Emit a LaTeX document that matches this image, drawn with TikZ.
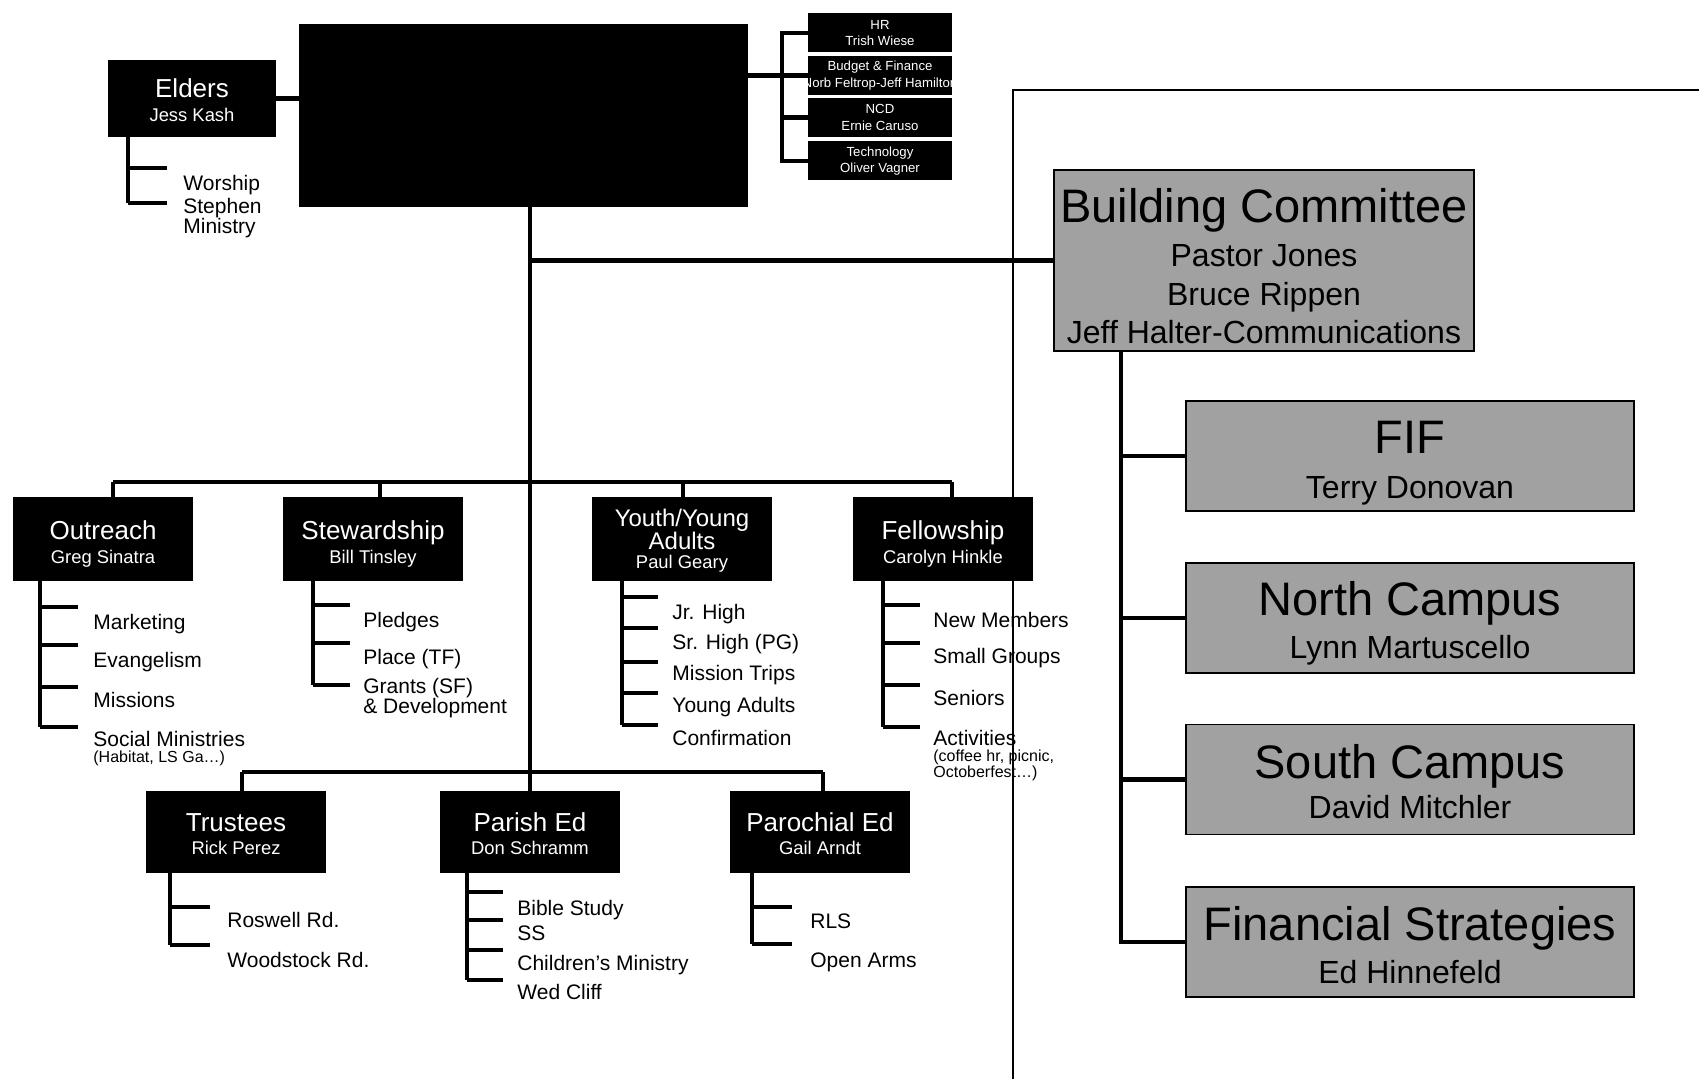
\documentclass[tikz,border=0pt]{standalone}
\usepackage{fontspec}
\setmainfont{Liberation Sans}
\begin{document}
\begin{tikzpicture}[x=0.5pt,y=-0.5pt,
 blk/.style={fill=black, draw=none, inner sep=0pt},
 gbox/.style={fill=black!37, draw=black, line width=0.9pt, inner sep=0pt, minimum width=224pt, minimum height=55pt},
 conn/.style={line width=2.2pt},
 framel/.style={line width=0.8pt},
 ttl/.style={text=white, inner sep=0pt, text height=9.3pt, text depth=0pt, font=\fontsize{13}{13}\selectfont},
 ttlsm/.style={text=white, inner sep=0pt, text height=8.6pt, text depth=0pt, font=\fontsize{12}{12}\selectfont},
 nm/.style={text=white, inner sep=0pt, text height=6.6pt, text depth=0pt, font=\fontsize{9.2}{9.2}\selectfont},
 item/.style={anchor=west, inner sep=0pt, text height=7.5pt, text depth=0pt, font=\fontsize{10.5}{10.2}\selectfont},
 itemtwo/.style={anchor=west, inner sep=0pt, align=left, font=\fontsize{10.5}{10.2}\selectfont},
 tinytxt/.style={anchor=west, inner sep=0pt, align=left, font=\fontsize{8}{8}\selectfont},
 hrt/.style={text=white, inner sep=0pt, align=center, font=\fontsize{6.6}{8.3}\selectfont},
 gtitle/.style={inner sep=0pt, text height=16.8pt, text depth=0pt, font=\fontsize{23.5}{23.5}\selectfont},
 gname/.style={inner sep=0pt, text height=11.5pt, text depth=0pt, font=\fontsize{16}{16}\selectfont},
 topbox/.style={blk, minimum width=90pt, minimum height=42pt},
 botbox/.style={blk, minimum width=90pt, minimum height=41pt},
 hrbox/.style={blk, minimum width=72pt, minimum height=19.5pt},
]
\fill[white] (0,0) rectangle (1699,1079);
\useasboundingbox (0,0) rectangle (1699,1079);

% ---------- top area ----------
\node[blk, minimum width=224.5pt, minimum height=91.5pt] (center) at (523.5,115.5) {};
\node[blk, minimum width=84pt, minimum height=38.5pt] (elders) at (192,98.5) {};
\node[ttl] (eldT) at (192,88) {Elders};
\node[nm] (eldN) at (192,115) {Jess Kash};

\node[hrbox] (hr) at (880,33) {};
\node[hrt] (hrT) at (880,33) {HR\\Trish Wiese};
\node[hrbox] (budget) at (880,75.5) {};
\begin{scope}
 \clip (808,56) rectangle (952,95);
 \node[hrt] (budT) at (880,75.5) {Budget \& Finance\\Norb Feltrop-Jeff Hamilton};
\end{scope}
\node[hrbox] (ncd) at (880,117.5) {};
\node[hrt] (ncdT) at (880,117.5) {NCD\\Ernie Caruso};
\node[hrbox] (tech) at (880,161) {};
\node[hrt] (techT) at (880,161) {Technology\\Oliver Vagner};

% ---------- building committee ----------
\node[gbox, minimum width=210pt, minimum height=90.5pt] (bc) at (1264,260.5) {};
\node[gtitle] (bcT) at (1264,206) {Building Committee};
\node[gname] (bc1) at (1264,255) {Pastor Jones};
\node[gname] (bc2) at (1264,294) {Bruce Rippen};
\node[gname] (bc3) at (1264,332) {Jeff Halter-Communications};

\node[gbox] (fif) at (1410,456) {};
\node[gtitle] (fifT) at (1410,437) {FIF};
\node[gname] (fifN) at (1410,487) {Terry Donovan};
\node[gbox] (north) at (1410,618) {};
\node[gtitle] (northT) at (1410,599) {North Campus};
\node[gname] (northN) at (1410,647) {Lynn Martuscello};
\node[gbox] (south) at (1410,779.5) {};
\node[gtitle] (southT) at (1410,762) {South Campus};
\node[gname] (southN) at (1410,807) {David Mitchler};
\node[gbox] (fin) at (1410,942) {};
\node[gtitle] (finT) at (1410,924) {Financial Strategies};
\node[gname] (finN) at (1410,972) {Ed Hinnefeld};

% ---------- top row ----------
\node[topbox] (outreach) at (103,539) {};
\node[ttl] (outT) at (103,530) {Outreach};
\node[nm] (outN) at (103,557) {Greg Sinatra};
\node[topbox] (steward) at (373,539) {};
\node[ttl] (steT) at (373,530) {Stewardship};
\node[nm] (steN) at (373,557) {Bill Tinsley};
\node[topbox] (youth) at (682,539) {};
\node[ttlsm] (youT1) at (682,518) {Youth/Young};
\node[ttlsm] (youT2) at (682,541) {Adults};
\node[nm] (youN) at (682,562) {Paul Geary};
\node[topbox] (fellow) at (943,539) {};
\node[ttl] (felT) at (943,530) {Fellowship};
\node[nm] (felN) at (943,557) {Carolyn Hinkle};

% ---------- bottom row ----------
\node[botbox] (trustees) at (236,832) {};
\node[ttl] (truT) at (236,822) {Trustees};
\node[nm] (truN) at (236,848) {Rick Perez};
\node[botbox] (parish) at (530,832) {};
\node[ttl] (parT) at (530,822) {Parish Ed};
\node[nm] (parN) at (530,848) {Don Schramm};
\node[botbox] (paroch) at (820,832) {};
\node[ttl] (proT) at (820,822) {Parochial Ed};
\node[nm] (proN) at (820,848) {Gail Arndt};

% ---------- main connectors ----------
\draw[conn] (elders.east) -- (elders.east -| center.west);
\draw[conn] (center.east |- budget.west) -- (budget.west);
\coordinate (brk) at (782,0);
\draw[conn] (hr.west) -| (brk |- tech.west) -- (tech.west);
\draw[conn] (brk |- ncd.west) -- (ncd.west);
\draw[conn] (center.south -| parish.north) -- (parish.north);
\draw[conn] (bc.west) -- (bc.west -| parish.north);

\coordinate (d1) at (113,482);
\coordinate (d2) at (380,482);
\coordinate (d3) at (683,482);
\coordinate (d4) at (952,482);
\draw[conn] (d1) -- (d4);
\draw[conn] (d1) -- (d1 |- outreach.north);
\draw[conn] (d2) -- (d2 |- steward.north);
\draw[conn] (d3) -- (d3 |- youth.north);
\draw[conn] (d4) -- (d4 |- fellow.north);

\coordinate (b1) at (242,772);
\coordinate (b3) at (823,772);
\draw[conn] (b1) -- (b3);
\draw[conn] (b1) -- (b1 |- trustees.north);
\draw[conn] (b3) -- (b3 |- paroch.north);

\coordinate (rv) at (1121,0);
\draw[conn] (bc.south -| rv) -- (rv |- fin.west) -- (fin.west);
\draw[conn] (rv |- fif.west) -- (fif.west);
\draw[conn] (rv |- north.west) -- (north.west);
\draw[conn] (rv |- south.west) -- (south.west);

% ---------- sub lists ----------
% Elders
\draw[conn] (128,137) -- (128,203);
\draw[conn] (128,168) -- (167,168);
\draw[conn] (128,203) -- (167,203);
\node[item] (worship) at (183,183) {Worship};
\node[itemtwo] (stephen) at (183,218) {Stephen\\Ministry};

% Outreach
\draw[conn] (40,581) -- (40,727);
\foreach \y in {607,645,687,727} \draw[conn] (40,\y) -- (78,\y);
\node[item] (o1) at (93,622) {Marketing};
\node[item] (o2) at (93,660) {Evangelism};
\node[item] (o3) at (93,700) {Missions};
\node[item] (o4) at (93,739) {Social Ministries};
\node[tinytxt] (o5) at (93,758) {(Habitat, LS Ga\dots)};

% Stewardship
\draw[conn] (313,581) -- (313,685);
\foreach \y in {605,643,685} \draw[conn] (313,\y) -- (350,\y);
\node[item] (s1) at (363,620) {Pledges};
\node[item] (s2) at (363,657) {Place (TF)};
\node[itemtwo] (s3) at (363,698) {Grants (SF)\\\& Development};

% Youth
\draw[conn] (622,581) -- (622,725);
\foreach \y in {597,628,662,693,725} \draw[conn] (622,\y) -- (658,\y);
\node[item] (y1) at (672,612) {Jr. High};
\node[item] (y2) at (672,642) {Sr. High (PG)};
\node[item] (y3) at (672,673) {Mission Trips};
\node[item] (y4) at (672,705) {Young Adults};
\node[item] (y5) at (672,738) {Confirmation};

% Fellowship
\draw[conn] (883,581) -- (883,727);
\foreach \y in {605,643,685,727} \draw[conn] (883,\y) -- (920,\y);
\node[item] (f1) at (933,620) {New Members};
\node[item] (f2) at (933,656) {Small Groups};
\node[item] (f3) at (933,698) {Seniors};
\node[item] (f4) at (933,738) {Activities};
\node[tinytxt] (f5) at (933,765) {(coffee hr, picnic,\\Octoberfest\dots)};

% Trustees
\draw[conn] (170,872) -- (170,945);
\foreach \y in {907,945} \draw[conn] (170,\y) -- (210,\y);
\node[item] (t1) at (227,920) {Roswell Rd.};
\node[item] (t2) at (227,960) {Woodstock Rd.};

% Parish Ed
\draw[conn] (467,872) -- (467,980);
\foreach \y in {892,920,950,980} \draw[conn] (467,\y) -- (503,\y);
\node[item] (p1) at (517,908) {Bible Study};
\node[item] (p2) at (517,933) {SS};
\node[item] (p3) at (517,963) {Children’s Ministry};
\node[item] (p4) at (517,992) {Wed Cliff};

% Parochial Ed
\draw[conn] (752,872) -- (752,944);
\foreach \y in {907,944} \draw[conn] (752,\y) -- (792,\y);
\node[item] (r1) at (810,921) {RLS};
\node[item] (r2) at (810,960) {Open Arms};

% ---------- frame line ----------
\coordinate (fr1) at (1013,1079);
\coordinate (fr2) at (1013,90);
\coordinate (fr3) at (1699,90);
\draw[framel] (fr1) -- (fr2) -- (fr3);
\end{tikzpicture}
\end{document}
